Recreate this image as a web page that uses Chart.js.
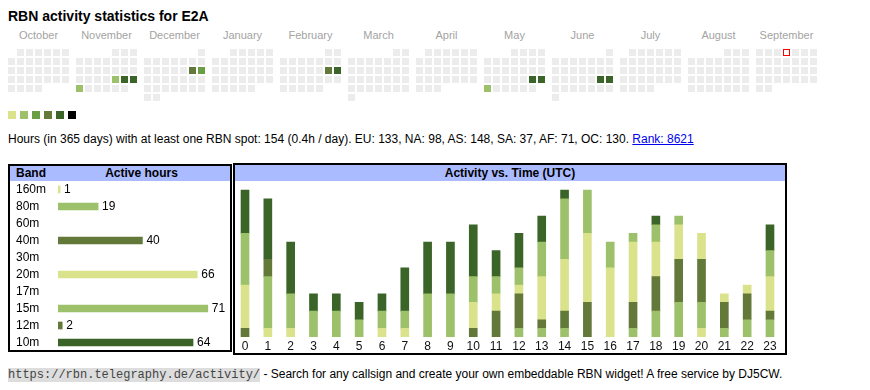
<!DOCTYPE html>
<html><head><meta charset="utf-8">
<script src="https://cdn.jsdelivr.net/npm/chart.js@4.4.1/dist/chart.umd.min.js"></script>
<style>
html,body{margin:0;padding:0;background:#fff;}
body{width:870px;height:390px;position:relative;overflow:hidden;font-family:"Liberation Sans",Arial,sans-serif;color:#000;}
canvas{position:absolute;}
#title{position:absolute;left:8px;top:8px;font-size:14px;font-weight:bold;line-height:16px;white-space:nowrap;}
.mon{position:absolute;top:29px;font-size:11px;line-height:13px;color:#a3a3a3;width:61px;text-align:center;white-space:nowrap;}
.sw{position:absolute;top:111px;width:8px;height:8px;}
#info{position:absolute;left:8px;top:132px;font-size:12px;line-height:14px;white-space:nowrap;}
#info a{color:#0000ee;text-decoration:underline;}
.box{position:absolute;border:2px solid #000;box-sizing:border-box;}
.hdr{position:absolute;background:#aabbff;font-size:12px;font-weight:bold;white-space:nowrap;}
#footer{position:absolute;left:8px;top:367px;font-size:12px;line-height:14px;white-space:nowrap;}
#footer .url{font-family:"Liberation Mono","DejaVu Sans Mono",monospace;background:#dddddd;color:#444;}
</style></head>
<body>
<div id="title">RBN activity statistics for E2A</div>
<div id="months"></div>
<div id="legend"></div>
<canvas id="heat" width="870" height="105" style="left:0;top:0;"></canvas>
<div id="info">Hours (in 365 days) with at least one RBN spot: 154 (0.4h / day). EU: 133, NA: 98, AS: 148, SA: 37, AF: 71, OC: 130. <a href="#">Rank: 8621</a></div>

<div class="box" style="left:8px;top:164px;width:224px;height:188px;"></div>
<div class="hdr" style="left:10px;top:166px;width:220px;height:15px;line-height:15px;">
  <span style="position:absolute;left:6px;">Band</span>
  <span style="position:absolute;left:48px;width:167px;text-align:center;">Active hours</span>
</div>
<canvas id="bands" width="221" height="171" style="left:10px;top:180px;"></canvas>

<div class="box" style="left:233px;top:163px;width:554px;height:192px;"></div>
<div class="hdr" style="left:235px;top:165px;width:550px;height:16px;line-height:16px;text-align:center;">Activity vs. Time (UTC)</div>
<canvas id="hours" width="551" height="174" style="left:232px;top:181px;"></canvas>

<div id="footer"><span class="url">https://rbn.telegraphy.de/activity/</span> - Search for any callsign and create your own embeddable RBN widget! A free service by DJ5CW.</div>

<script>
// ---------- data ----------
const MONTH_NAMES = ['October','November','December','January','February','March','April','May','June','July','August','September'];
const FIRST_YEAR = 2024;
const FIRST_MONTH = 9; // October (0-based)
const TODAY = '2025-09-04';
const ACTIVE_DATES = ['2024-11-22','2024-11-23','2024-11-24','2024-11-25','2024-12-14','2024-12-15','2025-02-15','2025-02-16','2025-05-24','2025-05-25','2025-05-26','2025-06-21','2025-06-22'];
const ACTIVE_LEVELS = [2,5,5,2,4,3,4,5,5,5,2,5,5];
const LEVEL_COLORS = ['#dbe28c','#9dc06a','#6a9e45','#63793a','#3a6428','#000000'];
const EMPTY_COLOR = '#ececec';
const TODAY_COLOR = '#ff0000';

const BANDS = ['160m','80m','60m','40m','30m','20m','17m','15m','12m','10m'];
const BAND_HOURS = [1,19,0,40,0,66,0,71,2,64];
const BAND_COLORS = ['#dbe28c','#9dc06a','#6a9e45','#63793a','#6a9e45','#dbe28c','#63793a','#9dc06a','#63793a','#3a6428'];

const UTC_HOURS = ['0','1','2','3','4','5','6','7','8','9','10','11','12','13','14','15','16','17','18','19','20','21','22','23'];
const H160 = [0,0,0,0,0,0,0,0,0,0,0,0,0,0,0,0,0,0,0,0,1,0,0,0];
const H80  = [0,0,0,0,0,0,0,0,0,0,0,0,1,1,1,0,0,1,3,4,3,1,2,2];
const H60  = [0,0,0,0,0,0,0,0,0,0,0,0,0,0,0,0,0,0,0,0,0,0,0,0];
const H40  = [1,0,0,0,0,0,0,0,0,0,1,3,4,1,2,4,0,3,4,5,5,3,3,1];
const H30  = [0,0,0,0,0,0,0,0,0,0,0,0,0,0,0,0,0,0,0,0,0,0,0,0];
const H20  = [5,1,1,0,0,0,1,1,0,0,3,2,1,5,6,8,8,7,4,4,3,1,1,4];
const H17  = [0,0,0,0,0,0,0,0,0,0,0,0,0,0,0,0,0,0,0,0,0,0,0,0];
const H15  = [6,6,4,3,3,2,2,2,5,5,3,2,2,4,7,5,3,1,2,1,0,0,0,3];
const H12  = [0,2,0,0,0,0,0,0,0,0,0,0,0,0,0,0,0,0,0,0,0,0,0,0];
const H10  = [5,7,6,2,2,2,2,5,6,6,6,3,4,3,1,0,0,0,1,0,0,0,0,3];
const HOURLY_BY_BAND = [H160,H80,H60,H40,H30,H20,H17,H15,H12,H10];

const FONT = '"Liberation Sans", Arial, sans-serif';
Chart.defaults.font.family = FONT;
Chart.defaults.animation = false;
const nz = arr => arr.map(v => v > 0 ? v : null);

// ---------- calendar heatmap ----------
const MONTH_STRIDE = 7 + 5/9; // columns per month block incl. gap
const pad = n => String(n).padStart(2,'0');
const months = document.getElementById('months');
MONTH_NAMES.forEach((name,m)=>{
  const d = document.createElement('div');
  d.className='mon'; d.textContent=name; d.style.left=(8+68*m)+'px';
  months.appendChild(d);
});
const legend = document.getElementById('legend');
LEVEL_COLORS.forEach((c,i)=>{
  const s=document.createElement('div'); s.className='sw'; s.style.left=(8+12*i)+'px'; s.style.background=c; legend.appendChild(s);
});

const emptyPts=[], activePts=[], activeCols=[], todayPts=[];
for(let m=0;m<12;m++){
  const y = FIRST_YEAR + Math.floor((FIRST_MONTH+m)/12);
  const mo = (FIRST_MONTH+m)%12;
  const ndays = new Date(Date.UTC(y,mo+1,0)).getUTCDate();
  const fw = (new Date(Date.UTC(y,mo,1)).getUTCDay()+6)%7;
  for(let d=1; d<=ndays; d++){
    const idx = fw + d - 1;
    const pt = {x: m*MONTH_STRIDE + idx%7, y: Math.floor(idx/7)};
    const ds = `${y}-${pad(mo+1)}-${pad(d)}`;
    const a = ACTIVE_DATES.indexOf(ds);
    if(ds===TODAY) todayPts.push(pt);
    else if(a>=0){ activePts.push(pt); activeCols.push(LEVEL_COLORS[ACTIVE_LEVELS[a]-1]); }
    else emptyPts.push(pt);
  }
}
const cellDs = (data, color, size) => ({data, pointStyle:'rect', pointRadius:size/Math.SQRT2,
  pointBackgroundColor:color, backgroundColor:color, pointBorderWidth:0, borderWidth:0});
new Chart(document.getElementById('heat'),{
  type:'scatter',
  data:{datasets:[
    cellDs(todayPts.slice(), '#ffffff', 5),   // inner white of today's frame (drawn on top)
    cellDs(todayPts.slice(), TODAY_COLOR, 7), // red frame
    cellDs(activePts, activeCols, 7),
    cellDs(emptyPts, EMPTY_COLOR, 7)
  ]},
  options:{
    responsive:false, events:[], devicePixelRatio:1,
    layout:{padding:0, autoPadding:false},
    plugins:{legend:{display:false}, tooltip:{enabled:false}},
    scales:{
      x:{type:'linear', display:false, min:-11.5/9, max:-11.5/9 + 870/9},
      y:{type:'linear', display:false, reverse:true, min:-52.5/9, max:-52.5/9 + 105/9}
    }
  }
});

// ---------- band table ----------
const valueLabels = {
  id:'valueLabels',
  afterDatasetsDraw(chart){
    const ctx=chart.ctx, meta=chart.getDatasetMeta(0), vals=chart.data.datasets[0].data;
    ctx.save(); ctx.font='12px '+FONT; ctx.fillStyle='#000'; ctx.textBaseline='middle'; ctx.textAlign='left';
    meta.data.forEach((bar,i)=>{ if(vals[i]>0) ctx.fillText(String(vals[i]), bar.x+4, bar.y); });
    ctx.restore();
  }
};
new Chart(document.getElementById('bands'),{
  type:'bar',
  data:{labels:BANDS, datasets:[{data:nz(BAND_HOURS), backgroundColor:BAND_COLORS, barThickness:7, borderWidth:0}]},
  options:{
    indexAxis:'y', responsive:false, events:[], devicePixelRatio:1,
    layout:{padding:{left:6,top:1,bottom:0,right:0}},
    plugins:{legend:{display:false}, tooltip:{enabled:false}},
    scales:{
      x:{display:false, min:0, max:82},
      y:{grid:{display:false}, border:{display:false},
         ticks:{crossAlign:'far', color:'#000', font:{size:12}, padding:0, autoSkip:false},
         afterFit(s){ s.width=42; s.paddingTop=0; s.paddingBottom=0; }}
    }
  },
  plugins:[valueLabels]
});

// ---------- activity vs time ----------
new Chart(document.getElementById('hours'),{
  type:'bar',
  data:{labels:UTC_HOURS, datasets:BANDS.map((b,i)=>({label:b, data:nz(HOURLY_BY_BAND[i]), backgroundColor:BAND_COLORS[i], barThickness:8, borderWidth:0}))},
  options:{
    responsive:false, events:[], devicePixelRatio:1,
    layout:{padding:{left:1.6,right:1.6,top:4,bottom:0}},
    plugins:{legend:{display:false}, tooltip:{enabled:false}},
    scales:{
      x:{stacked:true, grid:{display:false, drawTicks:false}, border:{display:false},
         ticks:{color:'#111', font:{size:12}, padding:2, maxRotation:0, autoSkip:false},
         afterFit(s){ s.height=18; s.paddingLeft=0; s.paddingRight=0; }},
      y:{stacked:true, display:false, min:0, max:17.6}
    }
  }
});
</script>
</body></html>
